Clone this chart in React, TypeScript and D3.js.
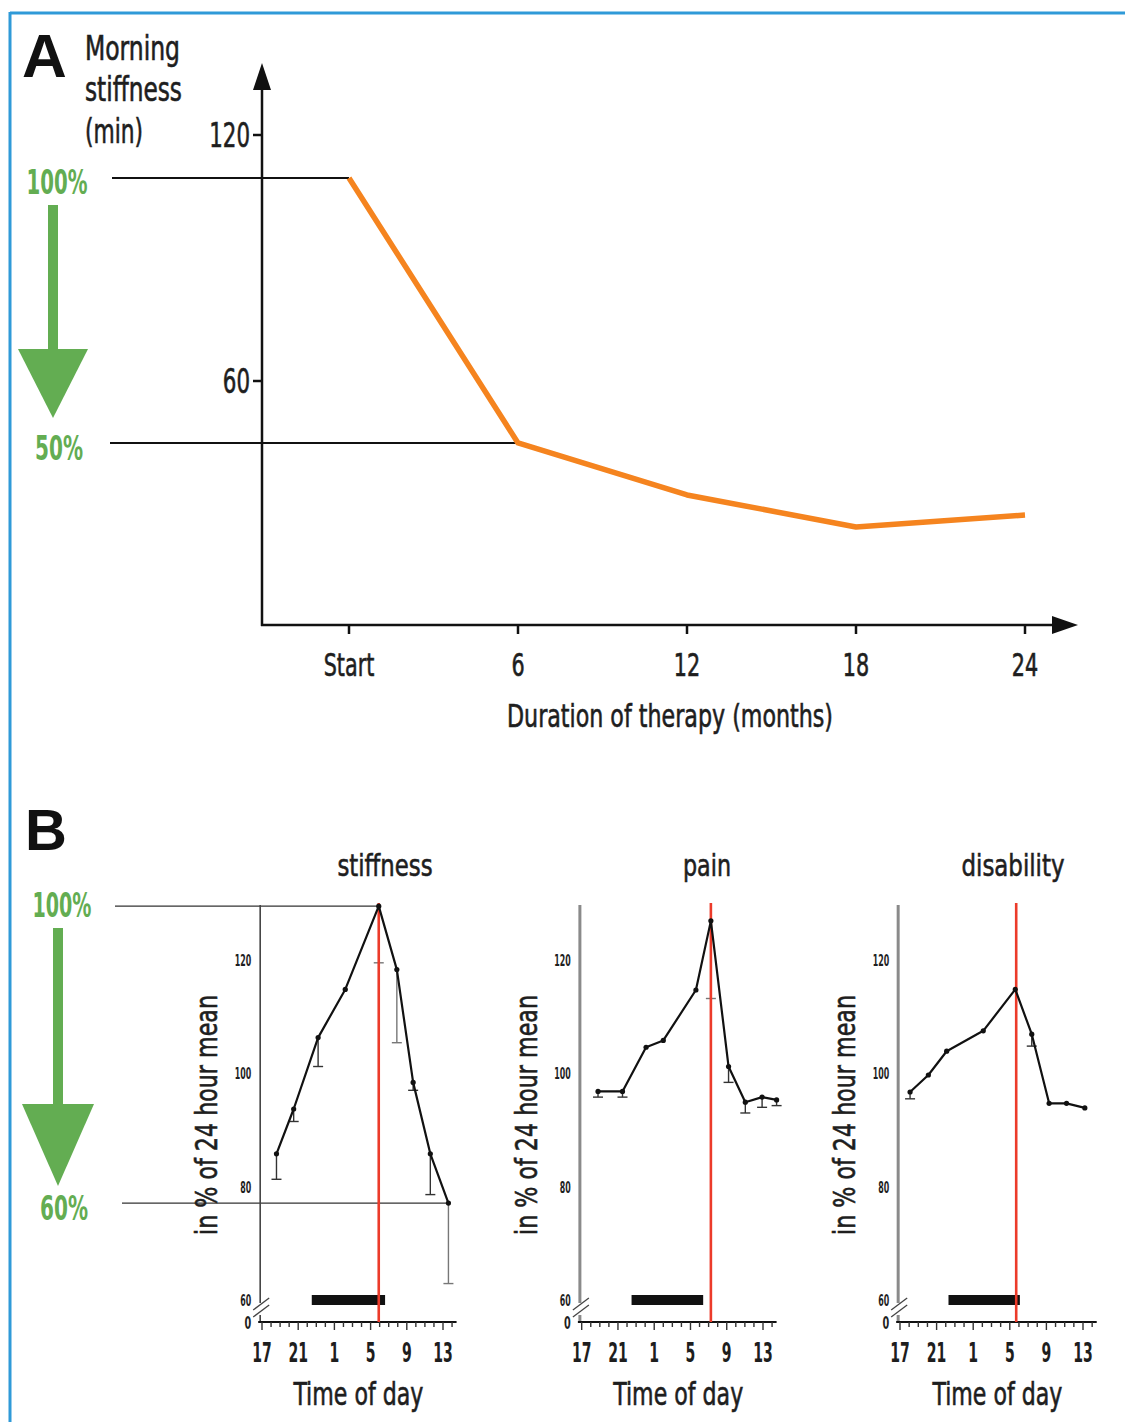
import React from 'react';
import * as d3 from 'd3';

// ---------- Panel A data ----------
const monthsA = [0, 6, 12, 18, 24];
const monthLabelsA = ['Start', '6', '12', '18', '24'];
const stiffnessMinA = [109.5, 44.9, 32.2, 24.4, 27.3];
const yTicksA = [60, 120];

// ---------- Panel B data ----------
const hourTicksB = [17, 21, 25, 29, 33, 37];
const hourLabelsB = ['17', '21', '1', '5', '9', '13'];
const yTicksB = [60, 80, 100, 120];
const panelTitlesB = ['stiffness', 'pain', 'disability'];

const stiffHours = [18.6, 20.5, 23.2, 26.2, 29.9, 31.9, 33.7, 35.6, 37.6];
const stiffVals = [85.8, 93.7, 106.3, 114.8, 129.5, 118.3, 98.4, 85.8, 77.1];
const stiffErrLow = [81.3, 91.5, 101.2, 114.8, 119.5, 105.4, 97.0, 78.6, 62.9];

const painHours = [18.8, 21.5, 24.1, 26.0, 29.6, 31.25, 33.2, 35.05, 36.9, 38.5];
const painVals = [96.8, 96.8, 104.6, 105.8, 114.7, 126.9, 101.2, 94.9, 95.8, 95.3];
const painErrLow = [95.8, 95.8, 104.6, 105.8, 114.7, 113.2, 98.4, 93.0, 94.0, 94.3];

const disHours = [18.1, 20.1, 22.1, 26.1, 29.6, 31.4, 33.3, 35.2, 37.2];
const disVals = [96.7, 99.7, 103.9, 107.5, 114.8, 106.9, 94.7, 94.7, 93.9];
const disErrLow = [95.5, 99.7, 103.9, 107.5, 114.8, 104.8, 94.7, 94.7, 93.9];

const peakHours = [29.9, 31.25, 29.7];
const sleepStart = [22.5, 22.5, 22.3];
const sleepEnd = [30.6, 30.4, 30.1];

const FONT = "'DejaVu Sans Condensed','DejaVu Sans',sans-serif";
const GREEN = '#63ad52';
const ORANGE = '#f5841f';
const RED = '#ec3b2a';
const BLUE = '#2f9ad8';
const INK = '#1e1e1e';

type CTProps = {
  x: number; y: number; size: number; anchor?: 'start' | 'middle' | 'end';
  sx?: number; weight?: number; fill?: string; rotate?: number; len?: number; children: React.ReactNode;
};
function CT({ x, y, size, anchor = 'start', sx = 0.72, weight = 400, fill = INK, rotate = 0, len, children }: CTProps) {
  const t = `translate(${x},${y}) rotate(${rotate})` + (len ? '' : ` scale(${sx},1)`);
  return (
    <text transform={t} fontSize={size} fontFamily={FONT} fontWeight={weight} fill={fill} textAnchor={anchor}
      stroke={weight < 700 ? fill : 'none'} strokeWidth={weight < 700 ? 0.6 : 0}
      {...(len ? { textLength: len, lengthAdjust: 'spacingAndGlyphs' } : {})}>
      {children}
    </text>
  );
}

function GreenArrow({ cx, y0, yHead, yTip, half, shaftW }: { cx: number; y0: number; yHead: number; yTip: number; half: number; shaftW: number }) {
  return (
    <g fill={GREEN}>
      <rect x={cx - shaftW / 2} y={y0} width={shaftW} height={yHead - y0 + 2} />
      <path d={`M${cx - half},${yHead} L${cx + half},${yHead} L${cx},${yTip} Z`} />
    </g>
  );
}

export default function App() {
  // Panel A scales
  const xA = d3.scaleLinear().domain([0, 24]).range([349, 1025]);
  const yA = d3.scaleLinear().domain([0, 120]).range([627, 135]);
  const axisXA = 262;
  const axisYA = 625;
  const lineA = d3.line<number>().x((_, i) => xA(monthsA[i])).y(d => yA(d));

  // Panel B layout
  const x17 = [262, 581.7, 900];
  const x13 = [443, 763, 1083];
  const titleX = [385, 707, 1013];
  const yB = d3.scaleLinear().domain([60, 129.7]).range([1300, 905]);
  const axisYB = 1322;
  const series = [
    { h: stiffHours, v: stiffVals, e: stiffErrLow },
    { h: painHours, v: painVals, e: painErrLow },
    { h: disHours, v: disVals, e: disErrLow },
  ];
  const axisStroke = ['#444', '#8a8a8a', '#8a8a8a'];
  const axisW = [1.6, 3, 3];

  const hoursAll = d3.range(17, 39, 1);

  return (
    <svg width={1125} height={1422} style={{ position: 'absolute', left: 0, top: 0, background: '#fff' }}>
      {/* frame */}
      <line x1={10} y1={13} x2={1125} y2={13} stroke={BLUE} strokeWidth={3} />
      <line x1={10} y1={12} x2={10} y2={1422} stroke={BLUE} strokeWidth={3} />

      {/* ---------------- Panel A ---------------- */}
      <text x={22} y={77} fontSize={62} fontFamily="'Liberation Sans',Arial,sans-serif" fontWeight={700} fill="#111">A</text>
      <CT x={85} y={60} size={33} len={95}>Morning</CT>
      <CT x={85} y={101} size={33} len={97}>stiffness</CT>
      <CT x={85} y={143} size={33} len={58}>(min)</CT>

      {/* reference lines */}
      <line x1={112} x2={xA(monthsA[0])} y1={yA(stiffnessMinA[0])} y2={yA(stiffnessMinA[0])} stroke="#111" strokeWidth={2} />
      <line x1={110} x2={xA(monthsA[1])} y1={yA(stiffnessMinA[1])} y2={yA(stiffnessMinA[1])} stroke="#111" strokeWidth={2} />

      {/* axes */}
      <line x1={axisXA} x2={axisXA} y1={axisYA + 1} y2={80} stroke="#111" strokeWidth={2.5} />
      <path d={`M${axisXA},63 L${axisXA - 9},90 L${axisXA + 9},90 Z`} fill="#111" />
      <line x1={axisXA - 1} x2={1058} y1={axisYA} y2={axisYA} stroke="#111" strokeWidth={2.5} />
      <path d={`M1078,${axisYA} L1052,${axisYA - 9} L1052,${axisYA + 9} Z`} fill="#111" />

      {yTicksA.map(t => (
        <g key={t}>
          <line x1={axisXA - 9} x2={axisXA} y1={yA(t)} y2={yA(t)} stroke="#111" strokeWidth={2.5} />
          <CT x={axisXA - 12} y={yA(t) + 12} size={33} anchor="end">{t}</CT>
        </g>
      ))}
      {monthsA.map((m, i) => (
        <g key={m}>
          <line x1={xA(m)} x2={xA(m)} y1={axisYA} y2={axisYA + 9} stroke="#111" strokeWidth={2.5} />
          <CT x={xA(m)} y={676} size={32} anchor="middle">{monthLabelsA[i]}</CT>
        </g>
      ))}
      <CT x={670} y={727} size={32} anchor="middle" len={326}>Duration of therapy (months)</CT>

      <path d={lineA(stiffnessMinA) || ''} fill="none" stroke={ORANGE} strokeWidth={5.5} strokeLinejoin="round" />

      {/* green arrow A */}
      <CT x={57} y={194} size={34} anchor="middle" weight={700} fill={GREEN} len={61}>100%</CT>
      <GreenArrow cx={53} y0={205} yHead={349} yTip={418} half={35} shaftW={10} />
      <CT x={59} y={460} size={34} anchor="middle" weight={700} fill={GREEN} len={48}>50%</CT>

      {/* ---------------- Panel B ---------------- */}
      <text x={25} y={850} fontSize={58} fontFamily="'Liberation Sans',Arial,sans-serif" fontWeight={700} fill="#111">B</text>
      <CT x={62} y={917} size={34} anchor="middle" weight={700} fill={GREEN} len={59}>100%</CT>
      <GreenArrow cx={58} y0={928} yHead={1104} yTip={1186} half={36} shaftW={10} />
      <CT x={64} y={1220} size={34} anchor="middle" weight={700} fill={GREEN} len={48}>60%</CT>

      {series.map((s, k) => {
        const xB = d3.scaleLinear().domain([17, 37]).range([x17[k], x13[k]]);
        const ax = xB(16.8);
        const line = d3.line<number>().x((_, i) => xB(s.h[i])).y(d => yB(d));
        return (
          <g key={k}>
            <CT x={titleX[k]} y={876} size={31} anchor="middle" len={[95, 48, 103][k]}>{panelTitlesB[k]}</CT>

            {k === 0 && (
              <g stroke="#333" strokeWidth={1.4}>
                <line x1={115} x2={xB(s.h[4])} y1={yB(s.v[4])} y2={yB(s.v[4])} />
                <line x1={122} x2={xB(s.h[8])} y1={yB(s.v[8])} y2={yB(s.v[8])} />
              </g>
            )}

            {/* y axis with break */}
            <line x1={ax} x2={ax} y1={905} y2={1303} stroke={axisStroke[k]} strokeWidth={axisW[k]} />
            <line x1={ax} x2={ax} y1={1315} y2={axisYB} stroke={axisStroke[k]} strokeWidth={axisW[k]} />
            <line x1={ax - 7} x2={ax + 9} y1={1310} y2={1298} stroke="#444" strokeWidth={1.3} />
            <line x1={ax - 7} x2={ax + 9} y1={1317} y2={1305} stroke="#444" strokeWidth={1.3} />
            {yTicksB.map(t => (
              <CT key={t} x={ax - 9} y={yB(t) + 6} size={16} anchor="end" weight={700} sx={0.55}>{t}</CT>
            ))}
            <CT x={ax - 9} y={axisYB + 7} size={18} anchor="end" weight={700} sx={0.6}>0</CT>

            {/* x axis */}
            <line x1={ax - 2} x2={xB(38.5)} y1={axisYB} y2={axisYB} stroke="#111" strokeWidth={2.2} />
            {hoursAll.map(h => (
              <line key={h} x1={xB(h)} x2={xB(h)} y1={axisYB} y2={axisYB + (hourTicksB.includes(h) ? 8 : 5)} stroke="#333" strokeWidth={1.4} />
            ))}
            {hourTicksB.map((h, i) => (
              <CT key={h} x={xB(h)} y={1362} size={26} anchor="middle" weight={700} sx={0.6}>{hourLabelsB[i]}</CT>
            ))}
            <CT x={(ax + xB(38.5)) / 2} y={1405} size={32} anchor="middle" len={130}>Time of day</CT>

            {/* y label */}
            <CT x={ax - 43} y={1115} size={30} anchor="middle" rotate={-90} len={240}>in % of 24 hour mean</CT>

            {/* sleep bar */}
            <rect x={xB(sleepStart[k])} y={1295} width={xB(sleepEnd[k]) - xB(sleepStart[k])} height={10} fill="#111" />

            {/* error bars */}
            {s.h.map((h, i) => (
              s.e[i] < s.v[i] - 0.3 ? (
                <g key={i} stroke={s.v[i] - s.e[i] > 8 ? '#777' : '#333'} strokeWidth={1.4}>
                  <line x1={xB(h)} x2={xB(h)} y1={yB(s.v[i])} y2={yB(s.e[i])} />
                  <line x1={xB(h) - 5} x2={xB(h) + 5} y1={yB(s.e[i])} y2={yB(s.e[i])} />
                </g>
              ) : null
            ))}

            {/* red line */}
            <line x1={xB(peakHours[k])} x2={xB(peakHours[k])} y1={903} y2={axisYB} stroke={RED} strokeWidth={2.6} />

            {/* data line */}
            <path d={line(s.v) || ''} fill="none" stroke="#111" strokeWidth={2.2} strokeLinejoin="round" />
            {s.h.map((h, i) => (
              <circle key={i} cx={xB(h)} cy={yB(s.v[i])} r={2.6} fill="#111" />
            ))}
          </g>
        );
      })}
    </svg>
  );
}
